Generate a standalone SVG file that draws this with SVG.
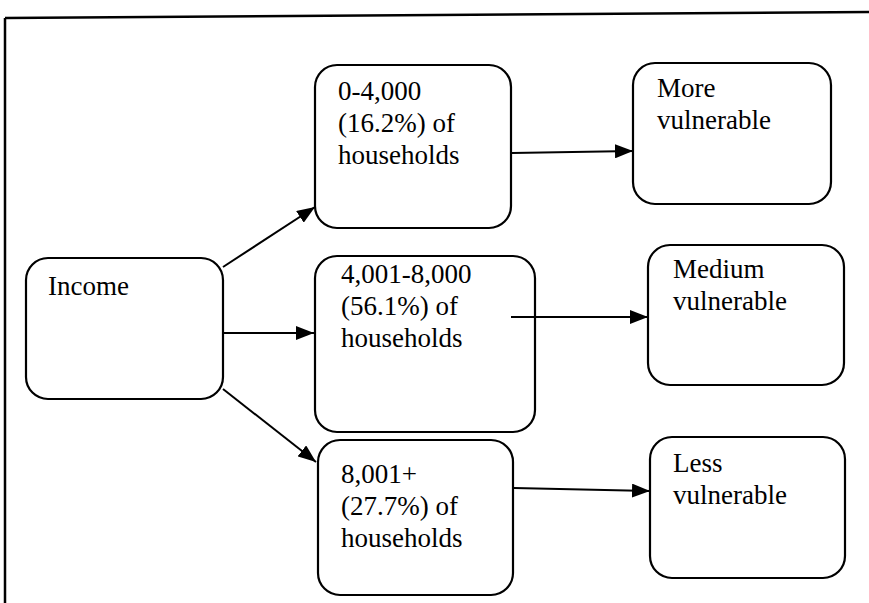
<svg xmlns="http://www.w3.org/2000/svg" width="869" height="603" viewBox="0 0 869 603">
  <style>
    .box { fill: #ffffff; stroke: #000000; stroke-width: 2.2; }
    .lbl { font-size: 27px; fill: #000000; }
    .edge { stroke: #000000; stroke-width: 2; fill: none; marker-end: url(#head); }
    .frame { stroke: #000000; stroke-width: 2.5; fill: none; }
  </style>
  <defs>
    <marker id="head" viewBox="0 0 18 14" refX="18" refY="7" markerWidth="18" markerHeight="14" markerUnits="userSpaceOnUse" orient="auto">
      <path d="M0,0 L18,7 L0,14 z" fill="#000000"/>
    </marker>
  </defs>

  <rect width="869" height="603" fill="#ffffff"/>

  <!-- page frame -->
  <g id="frame">
    <path class="frame" d="M5,18 L869,12"/>
    <path class="frame" d="M5,18 L5,603"/>
  </g>

  <g font-family="'Liberation Serif', 'Times New Roman', 'DejaVu Serif', serif">
    <g id="income">
      <rect class="box" x="26" y="258" width="197" height="141" rx="22"/>
      <text class="lbl" x="48" y="295">Income</text>
    </g>

    <g id="low-income">
      <rect class="box" x="315" y="65" width="196" height="163" rx="22"/>
      <text class="lbl" x="338" y="100">0-4,000</text>
      <text class="lbl" x="338" y="132">(16.2%) of</text>
      <text class="lbl" x="338" y="164">households</text>
    </g>

    <g id="mid-income">
      <rect class="box" x="315" y="256" width="220" height="176" rx="22"/>
      <text class="lbl" x="341" y="283">4,001-8,000</text>
      <text class="lbl" x="341" y="315">(56.1%) of</text>
      <text class="lbl" x="341" y="347">households</text>
    </g>

    <g id="high-income">
      <rect class="box" x="318" y="440" width="195" height="155" rx="22"/>
      <text class="lbl" x="341" y="483">8,001+</text>
      <text class="lbl" x="341" y="515">(27.7%) of</text>
      <text class="lbl" x="341" y="547">households</text>
    </g>

    <g id="more-vulnerable">
      <rect class="box" x="633" y="63" width="198" height="141" rx="22"/>
      <text class="lbl" x="657" y="97">More</text>
      <text class="lbl" x="657" y="129">vulnerable</text>
    </g>

    <g id="medium-vulnerable">
      <rect class="box" x="648" y="245" width="196" height="140" rx="22"/>
      <text class="lbl" x="673" y="278">Medium</text>
      <text class="lbl" x="673" y="310">vulnerable</text>
    </g>

    <g id="less-vulnerable">
      <rect class="box" x="650" y="437" width="195" height="141" rx="22"/>
      <text class="lbl" x="673" y="472">Less</text>
      <text class="lbl" x="673" y="504">vulnerable</text>
    </g>
  </g>

  <g id="connectors">
    <path class="edge" d="M223,267 L315,207"/>
    <path class="edge" d="M224,333 L314,333"/>
    <path class="edge" d="M223,389 L316,462"/>
    <path class="edge" d="M512,153 L633,151"/>
    <path class="edge" d="M511,317 L648,317"/>
    <path class="edge" d="M514,488 L650,491"/>
  </g>
</svg>
